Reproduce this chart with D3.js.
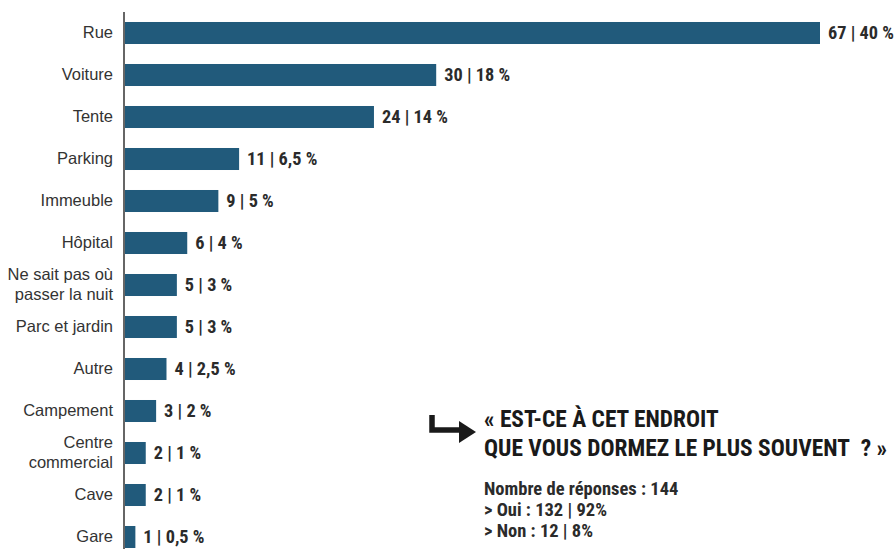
<!DOCTYPE html>
<html>
<head>
<meta charset="utf-8">
<script src="https://cdn.jsdelivr.net/npm/d3@7"></script>
<style>
  body { margin: 0; background: #fff; }
  svg { display: block; font-family: "Roboto Condensed", "Liberation Sans Narrow", "DejaVu Sans Condensed", sans-serif; }
</style>
</head>
<body>
<svg></svg>
<script>
const categories = ["Rue", "Voiture", "Tente", "Parking", "Immeuble", "Hôpital",
    "Ne sait pas où\npasser la nuit", "Parc et jardin", "Autre", "Campement",
    "Centre\ncommercial", "Cave", "Gare"];
const counts = [67, 30, 24, 11, 9, 6, 5, 5, 4, 3, 2, 2, 1];
const percents = ["40", "18", "14", "6,5", "5", "4", "3", "3", "2,5", "2", "1", "1", "0,5"];

const noteTitle = ["« EST-CE À CET ENDROIT", "QUE VOUS DORMEZ LE PLUS SOUVENT\u00a0\u00a0? »"];
const noteLines = ["Nombre de réponses : 144", "> Oui : 132 | 92%", "> Non : 12 | 8%"];

const width = 895;
const height = 549;
const margin = { top: 12, left: 125 };

const data = categories.map((c, i) => ({ cat: c, n: counts[i], pct: percents[i] }));

const svg = d3.select("svg")
    .attr("width", width)
    .attr("height", height);

const y = d3.scaleBand()
    .domain(categories)
    .range([margin.top, margin.top + 42 * categories.length])
    .paddingInner(0.476)
    .paddingOuter(0.238);

const x = d3.scaleLinear()
    .domain([0, 67])
    .range([margin.left, 820]);

svg.append("g")
    .selectAll("rect")
    .data(data)
    .enter().append("rect")
    .attr("x", x(0))
    .attr("y", d => y(d.cat))
    .attr("width", d => x(d.n) - x(0))
    .attr("height", y.bandwidth())
    .attr("fill", "#215a7b");

// valeurs
svg.append("g")
    .selectAll("text")
    .data(data)
    .enter().append("text")
    .attr("x", d => x(d.n) + 8)
    .attr("y", d => y(d.cat) + y.bandwidth() / 2)
    .attr("dy", "0.35em")
    .attr("font-size", 18.3)
    .attr("font-weight", "bold")
    .attr("fill", "#2b2b2b")
    .text(d => `${d.n} | ${d.pct} %`);

// axe vertical
const axis = svg.append("g")
    .attr("transform", `translate(${margin.left - 1},0)`)
    .call(d3.axisLeft(y).tickSize(0).tickPadding(11));
axis.select(".domain").attr("d", `M0,12V${height}`).attr("stroke", "#333").attr("stroke-width", 1.5);
axis.selectAll(".tick text")
    .attr("font-size", 16.5)
    .attr("font-family", null)
    .attr("fill", "#333")
    .each(function(d) {
        const lines = d.split("\n");
        const t = d3.select(this).text(null);
        lines.forEach((l, i) => {
            t.append("tspan")
                .attr("x", -11)
                .attr("dy", i === 0 ? `${0.32 - (lines.length - 1) * 0.6}em` : "1.2em")
                .text(l);
        });
    });

// note
const note = svg.append("g");
note.append("path")
    .attr("d", "M432,415V430H460")
    .attr("fill", "none")
    .attr("stroke", "#1a1a1a")
    .attr("stroke-width", 5.5);
note.append("path")
    .attr("d", "M459,421L476,432L459,443Z")
    .attr("fill", "#1a1a1a");

note.selectAll(".title")
    .data(noteTitle)
    .enter().append("text")
    .attr("x", 484)
    .attr("y", (d, i) => 427 + i * 29)
    .attr("font-size", 23.4)
    .attr("font-weight", "bold")
    .attr("fill", "#1a1a1a")
    .text(d => d);

note.selectAll(".sub")
    .data(noteLines)
    .enter().append("text")
    .attr("x", 484)
    .attr("y", (d, i) => 495 + i * 21)
    .attr("font-size", 18.5)
    .attr("font-weight", "bold")
    .attr("fill", "#2b2b2b")
    .text(d => d);
</script>
</body>
</html>
